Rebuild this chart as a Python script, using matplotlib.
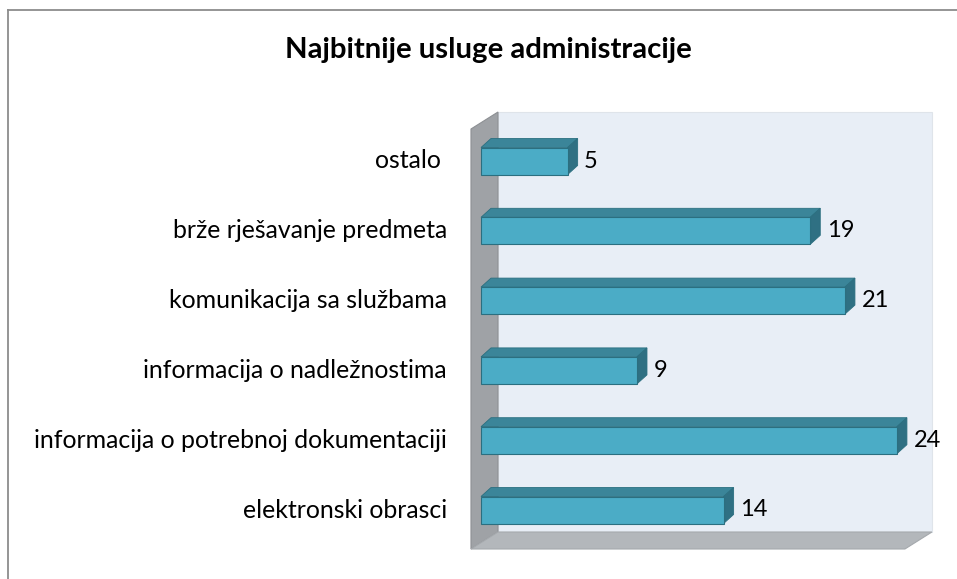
import matplotlib
matplotlib.use("Agg")
import matplotlib.pyplot as plt
from matplotlib.patches import Polygon, Rectangle
from matplotlib.lines import Line2D

categories = ["elektronski obrasci", "informacija o potrebnoj dokumentaciji",
              "informacija o nadležnostima", "komunikacija sa službama",
              "brže rješavanje predmeta", "ostalo "]
values = [14, 24, 9, 21, 19, 5]
title = "Najbitnije usluge administracije"

W, H = 957, 579
fig = plt.figure(figsize=(W / 100, H / 100), dpi=100)
ax = fig.add_axes([0, 0, 1, 1])
ax.set_axis_off()

# pixel scale: x px per unit, y px per category
x0px, sx = 481.0, 17.33
y0px, sy = 510.0, 69.8
ax.set_xlim(-x0px / sx, (W - x0px) / sx)
ax.set_ylim((y0px - H) / sy, y0px / sy)

def px(xp, yp):
    return ((xp - x0px) / sx, (y0px - yp) / sy)

# frame (top and left only visible)
fig.add_artist(Line2D([8 / W, 8 / W], [0, 1 - 10 / H], color="#8c8c8c", lw=1.3))
fig.add_artist(Line2D([8 / W, 1], [1 - 10 / H, 1 - 10 / H], color="#8c8c8c", lw=1.3))

# walls
wdx, wdy = 27 / sx, 17 / sy
back_l, back_r = 0.98, 26.02
back_t, back_b = px(0, 112)[1], px(0, 532)[1]
ax.add_patch(Polygon([(back_l, back_b), (back_r, back_b), (back_r, back_t), (back_l, back_t)],
                     closed=True, fc="#e8eef6", ec="#dfe4ea", lw=0.8, zorder=1))
ax.add_patch(Polygon([(back_l, back_t), (back_l, back_b), (back_l - wdx, back_b - wdy),
                      (back_l - wdx, back_t - wdy)], closed=True, fc="#9fa2a6", ec="#8d9094", lw=0.8, zorder=2))
ax.add_patch(Polygon([(back_l, back_b), (back_r, back_b), (back_r - wdx, back_b - wdy),
                      (back_l - wdx, back_b - wdy)], closed=True, fc="#b3b7bb", ec="#a5a9ad", lw=0.8, zorder=2))

# bars
bh = 27 / sy
bdx, bdy = 10 / sx, 9 / sy
front_c, top_c, side_c, edge_c = "#4bacc6", "#3b8599", "#2f7083", "#2b6f80"
for i, v in enumerate(values):
    yb = i - bh / 2
    yt = i + bh / 2
    ax.add_patch(Polygon([(0, yt), (v, yt), (v + bdx, yt + bdy), (bdx, yt + bdy)],
                         closed=True, fc=top_c, ec=edge_c, lw=0.6, zorder=3))
    ax.add_patch(Polygon([(v, yb), (v + bdx, yb + bdy), (v + bdx, yt + bdy), (v, yt)],
                         closed=True, fc=side_c, ec=edge_c, lw=0.6, zorder=3))
    ax.add_patch(Rectangle((0, yb), v, bh, fc=front_c, ec=edge_c, lw=0.8, zorder=4))
    ax.text(v + 0.95, i, str(v), ha="left", va="center", fontsize=17, family="Lato", color="black", zorder=5)
    ax.text(px(447, 0)[0], i, categories[i], ha="right", va="center", fontsize=17.9,
            family="Lato", color="black", zorder=5)

ax.text(px(488, 0)[0], px(0, 50)[1], title, ha="center", va="center", fontsize=21.2,
        fontweight="bold", family="Lato", color="black")

fig.savefig("out.png", dpi=100)
